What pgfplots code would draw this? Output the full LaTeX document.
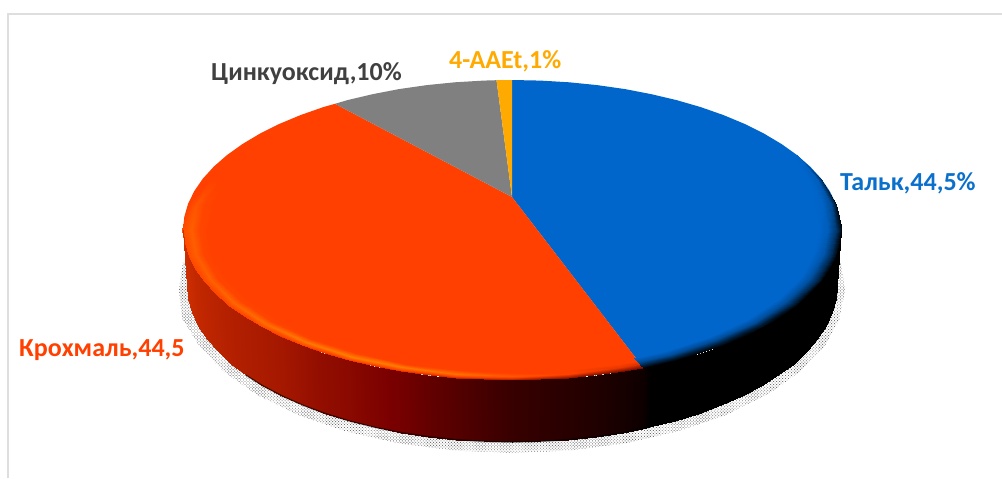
\documentclass[border=0pt]{standalone}
\usepackage{fontspec}
\setmainfont{Carlito}
\usepackage{pgfplots}
\pgfplotsset{compat=1.18}
\usetikzlibrary{patterns.meta}
\definecolor{talk}{HTML}{0066CC}
\definecolor{talktext}{HTML}{0A70CC}
\definecolor{starch}{HTML}{FF4000}
\definecolor{zinc}{HTML}{808080}
\definecolor{aaet}{HTML}{FFAA00}
\definecolor{frameline}{HTML}{DEDEDE}
\begin{document}
\begin{tikzpicture}
\begin{axis}[
  scale only axis, width=1002bp, height=478bp,
  xmin=0, xmax=1002, ymin=0, ymax=478, y dir=reverse,
  hide axis, clip=true,
  point meta min=0, point meta max=255,
  colormap={wallmap}{rgb255(0pt)=(0,0,0); rgb255(122pt)=(122,0,0); rgb255(208pt)=(208,48,0); rgb255(255pt)=(255,80,0)},
  colormap={redrim}{rgb255(0pt)=(90,0,0); rgb255(128pt)=(255,64,0); rgb255(255pt)=(255,136,0)},
  colormap={bluerim}{rgb255(0pt)=(0,0,0); rgb255(255pt)=(0,102,204)},
]
% chart frame
\addplot[frameline, line width=1.6bp] coordinates {(8,478) (8,14) (1002,14)};

% drop shadow under the disc
\addplot[draw=none, pattern={Dots[distance=2.1bp, radius=0.62bp, angle=45]}, pattern color=black!55] coordinates {
(183,262) (179,290) (182.1,318.3) (199.1,345.7) (223.6,371.5) (256.9,394.8) (298,414.9) (345.5,431.2) (398.1,443.2) (454.2,450.5) (512,453)
(569.8,450.5) (625.9,443.2) (678.5,431.2) (726,414.9) (767.1,394.8) (800.4,371.5) (824.9,345.7) (839.9,318.3) (845,290) (841,262) (183,262)};

% top face of the four slices
\addplot[draw=none, fill=talk] coordinates {
(512,197) (512,80) (540.7,80.6) (569.1,82.3) (597.1,85.1) (624.5,89) (651,94.1) (676.5,100.1) (700.7,107.1) (723.5,115.1) (744.6,123.9) (764,133.6) (781.5,144) (796.9,155) (810.2,166.6) (821.2,178.7) (829.8,191.2) (836,204) (839.7,216.9) (841,230)
(839.7,243.1) (836,256) (829.8,268.8) (821.2,281.3) (810.2,293.4) (796.9,305) (781.5,316) (764,326.4) (744.6,336.1) (723.5,344.9) (700.7,352.9) (676.5,359.9) (651,365.9) (643.2,367.6) (512,197)};
\addplot[draw=none, fill=starch] coordinates {
(512,197) (643.2,367.6) (624.5,371) (597.1,374.9) (569.1,377.7) (540.7,379.4) (512,380) (483.3,379.4) (454.9,377.7) (426.9,374.9) (399.5,371) (373,365.9) (347.5,359.9) (323.3,352.9) (300.5,344.9) (279.4,336.1) (260,326.4) (242.5,316) (227.1,305) (213.8,293.4) (202.8,281.3) (194.2,268.8) (188,256) (184.3,243.1) (183,230) (184.3,216.9) (188,204) (194.2,191.2) (202.8,178.7) (213.8,166.6) (227.1,155) (242.5,144) (260,133.6) (279.4,123.9) (300.5,115.1) (323.3,107.1) (335,103.8) (512,197)};
\addplot[draw=none, fill=zinc] coordinates {
(512,197) (335,103.8) (347.5,100.1) (373,94.1) (399.5,89) (426.9,85.1) (454.9,82.3) (483.3,80.6) (496.5,80.2) (512,197)};
\addplot[draw=none, fill=aaet] coordinates {
(512,197) (496.5,80.2) (512,80) (512,197)};

% bevel along the rim of the starch slice
\addplot[surf, shader=interp, colormap name=redrim, mesh/cols=4, mesh/rows=15, point meta=explicit]
  table[x expr=512+\thisrow{s}*\thisrow{dx}, y expr=230+\thisrow{s}*\thisrow{dy}, meta=m] {
dx dy s m
-309.2 -51.3 1.0 128
-309.2 -51.3 .975 128
-309.2 -51.3 .95 128
-309.2 -51.3 .92 128
-324 -26 1.0 128
-324 -26 .975 165
-324 -26 .95 135
-324 -26 .92 128
-329 0 1.003 150
-329 0 .975 180
-329 0 .95 140
-329 0 .92 128
-324 26 1.003 140
-324 26 .975 180
-324 26 .95 135
-324 26 .92 128
-309.2 51.3 1.003 130
-309.2 51.3 .975 185
-309.2 51.3 .95 135
-309.2 51.3 .92 128
-284.9 75 1.003 120
-284.9 75 .975 195
-284.9 75 .95 135
-284.9 75 .92 128
-252 96.4 1.003 115
-252 96.4 .975 210
-252 96.4 .95 135
-252 96.4 .92 128
-211.5 114.9 1.003 110
-211.5 114.9 .975 230
-211.5 114.9 .95 132
-211.5 114.9 .92 128
-164.5 129.9 1.003 100
-164.5 129.9 .975 240
-164.5 129.9 .95 132
-164.5 129.9 .92 128
-112.5 141 1.003 90
-112.5 141 .975 235
-112.5 141 .95 130
-112.5 141 .92 128
-57.1 147.7 1.003 70
-57.1 147.7 .975 215
-57.1 147.7 .95 130
-57.1 147.7 .92 128
0 150 1.003 50
0 150 .975 170
0 150 .95 128
0 150 .92 128
57.1 147.7 1.003 30
57.1 147.7 .975 130
57.1 147.7 .95 128
57.1 147.7 .92 128
112.5 141 1.003 20
112.5 141 .975 110
112.5 141 .95 128
112.5 141 .92 128
131.2 137.6 1.003 15
131.2 137.6 .975 100
131.2 137.6 .95 128
131.2 137.6 .92 128
};

% dark bevel along the rim of the talc slice
\addplot[surf, shader=interp, colormap name=bluerim, mesh/cols=4, mesh/rows=11, point meta=explicit]
  table[x expr=512+\thisrow{s}*\thisrow{dx}, y expr=230+\thisrow{s}*\thisrow{dy}, meta=m] {
dx dy s m
131.2 137.6 1.003 0
131.2 137.6 .985 70
131.2 137.6 .96 190
131.2 137.6 .93 255
164.5 129.9 1.003 0
164.5 129.9 .985 70
164.5 129.9 .96 190
164.5 129.9 .93 255
211.5 114.9 1.003 0
211.5 114.9 .985 70
211.5 114.9 .96 190
211.5 114.9 .93 255
252 96.4 1.003 0
252 96.4 .985 70
252 96.4 .96 190
252 96.4 .93 255
284.9 75 1.003 0
284.9 75 .985 80
284.9 75 .96 195
284.9 75 .93 255
309.2 51.3 1.003 0
309.2 51.3 .985 90
309.2 51.3 .96 205
309.2 51.3 .93 255
324 26 1.003 0
324 26 .985 110
324 26 .96 215
324 26 .93 255
329 0 1.003 10
329 0 .985 140
329 0 .96 230
329 0 .93 255
324 -26 1.0 40
324 -26 .985 190
324 -26 .96 245
324 -26 .93 255
309.2 -51.3 1.0 120
309.2 -51.3 .985 235
309.2 -51.3 .96 255
309.2 -51.3 .93 255
284.9 -75 1.0 255
284.9 -75 .985 255
284.9 -75 .96 255
284.9 -75 .93 255
};

% side wall of the disc, shaded from the left
\addplot[surf, shader=interp, colormap name=wallmap, mesh/cols=2, mesh/rows=38, point meta=explicit]
  table[x=x, y=y, meta=m] {
x y m
183 230 208
187 285 208
184.3 243.1 205
188.2 298.7 205
188 256 200
191.9 312.3 200
194.2 268.8 195
198.1 325.6 195
202.8 281.3 190
206.6 338.7 190
213.8 293.4 185
217.5 351.3 185
227.1 305 180
230.5 363.5 180
242.5 316 175
245.8 375.1 175
260 326.4 170
263 385.9 170
279.4 336.1 165
282.2 396 165
300.5 344.9 155
303.1 405.3 155
323.3 352.9 145
325.6 413.6 145
347.5 359.9 138
349.5 421 138
373 365.9 128
374.7 427.3 128
399.5 371 118
400.8 432.5 118
426.9 374.9 100
427.9 436.6 100
454.9 377.7 85
455.6 439.6 85
483.3 379.4 70
483.7 441.4 70
512 380 56
512 442 56
540.7 379.4 48
540.3 441.4 48
569.1 377.7 40
568.4 439.6 40
597.1 374.9 32
596.1 436.6 32
624.5 371 22
623.2 432.5 22
643.2 367.6 14
641.6 429 14
651 365.9 0
649.3 427.3 0
676.5 359.9 0
674.5 421 0
700.7 352.9 0
698.4 413.6 0
723.5 344.9 0
720.9 405.3 0
744.6 336.1 0
741.8 396 0
764 326.4 0
761 385.9 0
781.5 316 0
778.2 375.1 0
796.9 305 0
793.5 363.5 0
810.2 293.4 0
806.5 351.3 0
821.2 281.3 0
817.4 338.7 0
829.8 268.8 0
825.9 325.6 0
836 256 0
832.1 312.3 0
839.7 243.1 0
835.8 298.7 0
841 230 0
837 285 0
};

% dark lower edge of the wall
\addplot[black, opacity=.55, line width=1.4bp] coordinates {
(245.8,375.1) (263,385.9) (282.2,396) (303.1,405.3) (325.6,413.6) (349.5,421) (374.7,427.3) (400.8,432.5) (427.9,436.6) (455.6,439.6) (483.7,441.4) (512,442) (540.3,441.4) (568.4,439.6) (596.1,436.6) (623.2,432.5) (649.3,427.3)};

% slice labels
\node[anchor=base west, text=talktext, font=\fontsize{26bp}{26bp}\selectfont\bfseries, inner sep=0pt] at (axis cs:840,190.5) {Тальк,44,5\%};
\node[anchor=base west, text=starch, font=\fontsize{26bp}{26bp}\selectfont\bfseries, inner sep=0pt] at (axis cs:19,356) {Крохмаль,44,5};
\node[anchor=base west, text=black!75, font=\fontsize{26bp}{26bp}\selectfont\bfseries, inner sep=0pt] at (axis cs:211,81) {Цинкуоксид,10\%};
\node[anchor=base west, text=aaet, font=\fontsize{26bp}{26bp}\selectfont\bfseries, inner sep=0pt] at (axis cs:449,69) {4-AAEt,1\%};
\end{axis}
\pgfresetboundingbox
\path[use as bounding box] (current axis.south west) rectangle (current axis.north east);
\end{tikzpicture}
\end{document}
